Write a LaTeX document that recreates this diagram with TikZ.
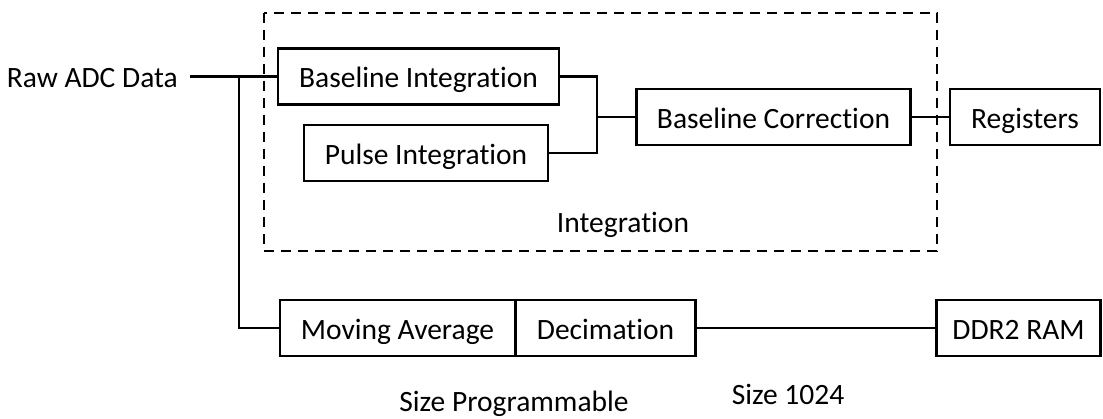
\documentclass[tikz,border=0pt]{standalone}
\usepackage{fontspec}
\setmainfont[RawFeature=-liga]{Carlito}
\begin{document}
\begin{tikzpicture}[x=1pt,y=-1pt,
  txt/.style={font=\fontsize{29.5}{34}\selectfont,text height=23pt,text depth=0pt},
  blk/.style={txt,draw,line width=2.4pt,inner xsep=0pt,inner ysep=0pt,minimum height=56pt},
  lbl/.style={txt,inner sep=0pt},
  conn/.style={line width=2.2pt}]
\useasboundingbox (0,0) rectangle (1103,419);
\draw[line width=2.2pt,dash pattern=on 10pt off 7pt] (264,13) rectangle (937,251);
\node[blk,minimum width=281pt] (bi) at (418.5,76.5) {Baseline Integration};
\node[blk,minimum width=244pt] (pi) at (426,153) {Pulse Integration};
\node[blk,minimum width=274pt] (bc) at (773.5,117) {Baseline Correction};
\node[blk,minimum width=150pt] (reg) at (1025,117) {Registers};
\node[blk,minimum width=235pt] (ma) at (397.5,328) {Moving Average};
\node[blk,minimum width=180pt] (dec) at (605.5,328) {Decimation};
\node[blk,minimum width=164pt] (ddr) at (1018.5,328) {DDR2 RAM};
\node[lbl,anchor=east,inner xsep=12pt] (raw) at (190,76.5) {Raw ADC Data};
\node[lbl] (integ) at (623,221.5) {Integration};
\node[lbl] (sp) at (514,400.5) {Size Programmable};
\node[lbl] (s1024) at (788,393.5) {Size 1024};
\coordinate (j1) at (239,76.5);
\coordinate (jx) at (597,117);
\draw[conn] (raw.east) -- (bi.west);
\draw[conn] (j1) |- (ma.west);
\draw[conn] (bi.east) -| (jx) |- (pi.east);
\draw[conn] (jx) -- (bc.west);
\draw[conn] (bc.east) -- (reg.west);
\draw[conn] (dec.east) -- (ddr.west);
\end{tikzpicture}
\end{document}
